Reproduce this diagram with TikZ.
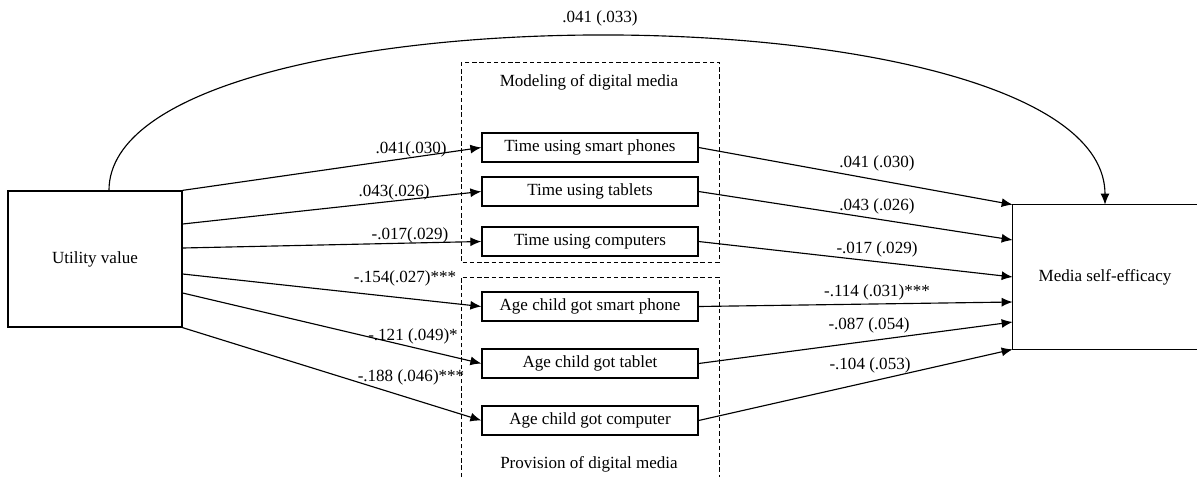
\documentclass[tikz,border=0pt]{standalone}
\usepackage{fontspec}
\setmainfont{Liberation Serif}
\usetikzlibrary{arrows.meta}

\tikzset{
    varbox/.style={draw, line width=0.75pt, inner sep=0pt, align=center},
    itembox/.style={varbox, minimum width=4.32cm, minimum height=0.58cm},
    grpbox/.style={line width=0.5pt, dash pattern=on 2.5pt off 1.6pt},
    arr/.style={-{Latex[length=2.2mm,width=1.8mm]}, line width=0.65pt},
    coef/.style={inner sep=0pt}
}

\begin{document}
\begin{tikzpicture}[x=0.02cm, y=-0.02cm, font=\fontsize{9.7}{11.6}\selectfont]
        \useasboundingbox (0,0) rectangle (1197,477);
        %gruppi
        \draw[grpbox](461,62) rectangle (719,262);
        \draw[grpbox](461,477) |- (719,277) -- (719,477);
        \node (gmod) at (589,82) {Modeling of digital media};
        \node (gprov) at (589,464) {Provision of digital media};

        %variabili
        \node[varbox, minimum width=3.48cm, minimum height=2.72cm] (uv) at (95,259) {Utility value};
        \node[minimum width=3.68cm, minimum height=2.88cm] (mse) at (1105,277) {Media self-efficacy};
        \draw[line width=0.75pt](mse.north east) -- (mse.north west) -- (mse.south west) -- (mse.south east);

        \node[itembox] (tsp) at (590,147.5) {Time using smart phones};
        \node[itembox] (ttab) at (590,191.5) {Time using tablets};
        \node[itembox] (tcomp) at (590,241.5) {Time using computers};
        \node[itembox] (asp) at (590,306.5) {Age child got smart phone};
        \node[itembox] (atab) at (590,363.5) {Age child got tablet};
        \node[itembox] (acomp) at (590,420.5) {Age child got computer};

        %effetto diretto
        \draw[arr]([xshift=0.28cm]uv.north) .. controls +(0,-208) and +(0,-222) .. (mse.north);
        \node[coef] (ldir) at (600,18) {.041 (.033)};

        %a paths
        \draw[arr](uv.north east) -- (tsp.west);
        \draw[arr](uv.east |- 0,224) -- (ttab.west);
        \draw[arr](uv.east |- 0,248) -- (tcomp.west);
        \draw[arr](uv.east |- 0,274) -- (asp.west);
        \draw[arr](uv.east |- 0,293) -- (atab.west);
        \draw[arr](uv.south east) -- (acomp.west);

        %b paths
        \draw[arr](tsp.east) -- (mse.north west);
        \draw[arr](ttab.east) -- (mse.west |- 0,240);
        \draw[arr](tcomp.east) -- (mse.west);
        \draw[arr](asp.east) -- (mse.west |- 0,302);
        \draw[arr](atab.east) -- (mse.west |- 0,322);
        \draw[arr](acomp.east) -- (mse.south west);

        %label a
        \node[coef] (la1) at (411,149) {.041(.030)};
        \node[coef] (la2) at (394,192) {.043(.026)};
        \node[coef] (la3) at (410,235) {-.017(.029)};
        \node[coef] (la4) at (405,278) {-.154(.027)***};
        \node[coef] (la5) at (413,336) {-.121 (.049)*};
        \node[coef] (la6) at (411,377) {-.188 (.046)***};
        %label b
        \node[coef] (lb1) at (877,163) {.041 (.030)};
        \node[coef] (lb2) at (877,206) {.043 (.026)};
        \node[coef] (lb3) at (877,249) {-.017 (.029)};
        \node[coef] (lb4) at (877,292) {-.114 (.031)***};
        \node[coef] (lb5) at (869,325) {-.087 (.054)};
        \node[coef] (lb6) at (870,365) {-.104 (.053)};
\end{tikzpicture}
\end{document}
